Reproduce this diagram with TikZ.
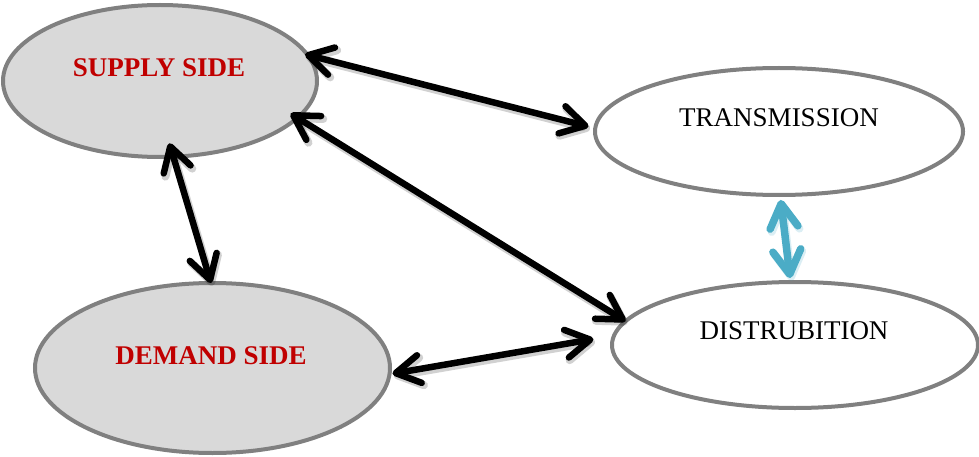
\documentclass[tikz,border=0pt]{standalone}
\usepackage{fontspec}
\setmainfont{Liberation Serif}
\usetikzlibrary{shapes.geometric,arrows.meta}

\definecolor{sidefill}{HTML}{D9D9D9}
\definecolor{rimgray}{HTML}{808080}
\definecolor{sidered}{HTML}{C00000}
\definecolor{linkblue}{HTML}{4BACC6}

\tikzset{
  oval/.style={ellipse, draw=rimgray, line width=4pt, inner sep=0pt, outer sep=0pt},
  sideoval/.style={oval, fill=sidefill},
  gridoval/.style={oval, fill=white},
  labeltext/.style={anchor=base, inner sep=0pt, font=\fontsize{27}{30}\selectfont},
  sidetext/.style={labeltext, text=sidered, font=\fontsize{27}{30}\selectfont\bfseries},
  link/.style={line width=6.5pt, line cap=round,
    >={Straight Barb[round, length=24pt, width=28pt]}, <->},
  linkshadow/.style={link, draw=black, draw opacity=0.18, line width=8pt,
    transform canvas={shift={(1.5pt,-2.5pt)}}},
}

\begin{document}
\begin{tikzpicture}[x=1pt, y=-1pt]
  \useasboundingbox (0,0) rectangle (979,457);

  % the four ovals
  \node[sideoval, minimum width=314pt, minimum height=152pt] (supply) at (160,81) {};
  \node[sideoval, minimum width=355pt, minimum height=170pt] (demand) at (212.5,368) {};
  \node[gridoval, minimum width=368pt, minimum height=127pt] (trans) at (779,131.5) {};
  \node[gridoval, minimum width=366pt, minimum height=126pt] (dist) at (795,345) {};

  % their captions
  \node[sidetext] (supplytext) at (159,77) {SUPPLY SIDE};
  \node[sidetext] (demandtext) at (211,364) {DEMAND SIDE};
  \node[labeltext] (transtext) at (779,127) {TRANSMISSION};
  \node[labeltext] (disttext) at (794,339) {DISTRUBITION};

  % soft shadows under the links
  \draw[linkshadow, shorten <=-2.5pt, shorten >=7pt] (supply.10) -- (trans.179);
  \draw[linkshadow, shorten <=-8pt] (supply.-15) -- (dist.172);
  \draw[linkshadow, shorten <=-14pt] (supply.-80) -- (demand.91);
  \draw[linkshadow, shorten <=3pt, shorten >=21pt] (demand.-2) -- (dist.177);
  \draw[linkshadow, draw=linkblue, draw opacity=0.2, shorten <=5pt, shorten >=4pt] (trans.-89) -- (dist.94);

  % two-way links
  \draw[link, shorten <=-2.5pt, shorten >=7pt] (supply.10) -- (trans.179);
  \draw[link, shorten <=-8pt] (supply.-15) -- (dist.172);
  \draw[link, shorten <=-14pt] (supply.-80) -- (demand.91);
  \draw[link, shorten <=3pt, shorten >=21pt] (demand.-2) -- (dist.177);
  \draw[link, draw=linkblue, line width=7.5pt, shorten <=5pt, shorten >=4pt] (trans.-89) -- (dist.94);
\end{tikzpicture}
\end{document}
